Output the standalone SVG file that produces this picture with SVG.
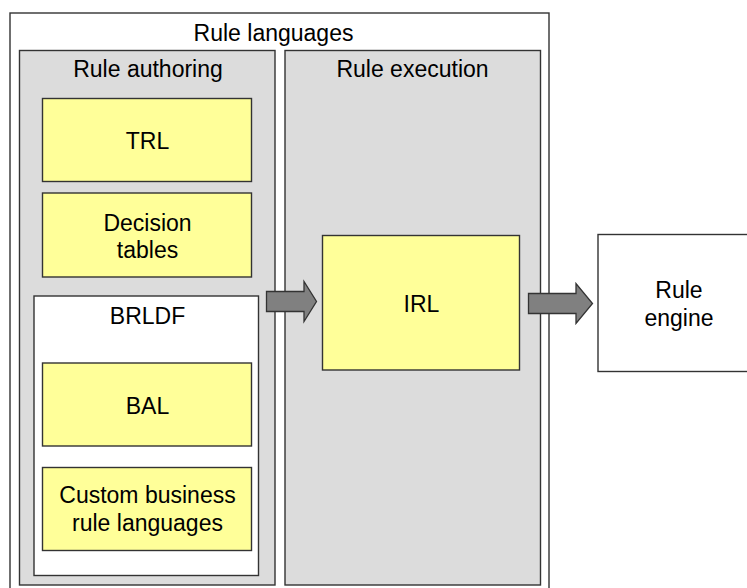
<svg xmlns="http://www.w3.org/2000/svg" width="747" height="588" viewBox="0 0 747 588">
<style>
text{font-family:"Liberation Sans",Arial,sans-serif;font-size:23px;fill:#000;text-anchor:middle}
.box{stroke:#333;stroke-width:1.4}
.grey{fill:#dcdcdc}
.yel{fill:#ffff99}
.wht{fill:#fff}
.arr{fill:#808080;stroke:#333;stroke-width:1.3;stroke-linejoin:miter}
</style>
<rect width="747" height="588" fill="#fff"/>
<g id="rule-languages">
<rect class="box wht" x="10" y="13" width="539" height="585"/>
<text x="273.5" y="40.5">Rule languages</text>
</g>
<g id="rule-authoring">
<rect class="box grey" x="19.5" y="50.5" width="255.5" height="534.5"/>
<text x="148" y="76.5">Rule authoring</text>
</g>
<g id="rule-execution">
<rect class="box grey" x="285" y="50.5" width="255.5" height="534.5"/>
<text x="412.5" y="76.5">Rule execution</text>
</g>
<g id="trl">
<rect class="box yel" x="42.5" y="98.5" width="209" height="83"/>
<text x="147.5" y="148.5">TRL</text>
</g>
<g id="decision-tables">
<rect class="box yel" x="42.5" y="193" width="209" height="84"/>
<text x="147.5" y="230.5">Decision</text>
<text x="147.5" y="258.3">tables</text>
</g>
<g id="brldf">
<rect class="box wht" x="34" y="296" width="224.5" height="279.5"/>
<text x="147.5" y="324">BRLDF</text>
</g>
<g id="bal">
<rect class="box yel" x="42.5" y="363" width="209" height="83"/>
<text x="147.5" y="413.5">BAL</text>
</g>
<g id="custom">
<rect class="box yel" x="42.5" y="467.5" width="209" height="83"/>
<text x="147.5" y="502.5">Custom business</text>
<text x="147.5" y="530.5">rule languages</text>
</g>
<g id="irl">
<rect class="box yel" x="322.5" y="235.5" width="197" height="134.5"/>
<text x="421.5" y="311.5">IRL</text>
</g>
<g id="rule-engine">
<rect class="box wht" x="598" y="234.5" width="162" height="137"/>
<text x="679" y="298">Rule</text>
<text x="679" y="326">engine</text>
</g>
<g id="connectors">
<path class="arr" d="M266.5,291.5 H304 V281.5 L316.5,301.5 L304,321.5 V311.5 H266.5 Z"/>
<path class="arr" d="M528.5,293.5 H576 V283.5 L592.5,303.5 L576,323.5 V313.5 H528.5 Z"/>
</g>
</svg>
